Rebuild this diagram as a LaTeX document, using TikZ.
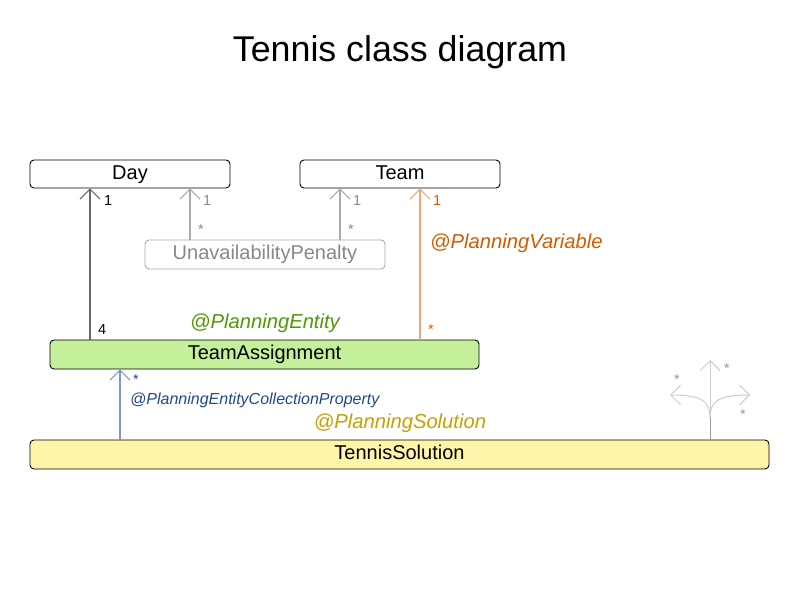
\documentclass[tikz,border=0pt]{standalone}
\usepackage{fontspec}
\setmainfont{Liberation Sans}
\usetikzlibrary{arrows.meta}
\definecolor{tagreen}{HTML}{C5F09B}
\definecolor{tsyellow}{HTML}{FFF5A8}
\definecolor{greentxt}{HTML}{4E9A06}
\definecolor{orangetxt}{HTML}{CE5C00}
\definecolor{orangeline}{HTML}{EBA57A}
\definecolor{bluetxt}{HTML}{204A87}
\definecolor{blueline}{HTML}{7F98BE}
\definecolor{goldtxt}{HTML}{C4A000}
\definecolor{darkline}{HTML}{666666}
\definecolor{grayline}{HTML}{AAAAAA}
\definecolor{graytxt}{HTML}{888888}
\tikzset{
  cls/.style={draw=black, rounded corners=4pt, line width=0.9pt, inner sep=0pt,
    font=\fontsize{20}{24}\selectfont, text=black, text height=14.5pt, text depth=4pt},
  assoc/.style={-{Straight Barb[length=10pt,width=20pt,line width=1pt]}, line width=1.1pt},
  mult/.style={font=\fontsize{14.5}{16}\selectfont, inner sep=0pt, anchor=west},
  annot/.style={font=\fontsize{20.2}{24}\selectfont\itshape, inner sep=0pt}
}
\begin{document}
\begin{tikzpicture}[x=1pt,y=-1pt]
\useasboundingbox (0,0) rectangle (800,600);
\node[font=\fontsize{35.8}{42}\selectfont, inner sep=0pt] (title) at (400,52) {Tennis class diagram};

\node[cls, minimum width=200pt, minimum height=28pt] (day) at (130,174) {Day};
\node[cls, minimum width=200pt, minimum height=28pt] (team) at (400,174) {Team};
\node[cls, draw=grayline, text=graytxt, minimum width=240pt, minimum height=29pt] (unav) at (265,254.5) {UnavailabilityPenalty};
\node[cls, fill=tagreen, minimum width=429pt, minimum height=29pt] (ta) at (264.5,354.5) {TeamAssignment};
\node[cls, fill=tsyellow, minimum width=739pt, minimum height=29pt] (ts) at (399.5,454.5) {TennisSolution};

\coordinate (x1) at (90,0);
\coordinate (x2) at (190,0);
\coordinate (x3) at (340,0);
\coordinate (x4) at (420,0);
\coordinate (x5) at (120,0);
\coordinate (x6) at (710,0);

\draw[assoc, darkline] (x1 |- ta.north) -- (x1 |- day.south);
\draw[assoc, grayline] (x2 |- unav.north) -- (x2 |- day.south);
\draw[assoc, grayline] (x3 |- unav.north) -- (x3 |- team.south);
\draw[assoc, orangeline] (x4 |- ta.north) -- (x4 |- team.south);
\draw[assoc, blueline] (x5 |- ts.north) -- (x5 |- ta.south);

\node[mult] (m1) at (104,201) {1};
\node[mult] (m4) at (98,330) {4};
\node[mult, text=graytxt] (m2) at (203,201) {1};
\node[mult, text=graytxt] (m3) at (198,230) {*};
\node[mult, text=graytxt] (m5) at (353,201) {1};
\node[mult, text=graytxt] (m6) at (348,230) {*};
\node[mult, text=orangetxt] (m7) at (433,201) {1};
\node[mult, text=orangetxt] (m8) at (428,330) {*};
\node[mult, text=bluetxt] (m9) at (133,380) {*};

\node[annot, text=orangetxt, anchor=west] (pv) at (430,243) {@PlanningVariable};
\node[annot, text=greentxt] (pe) at (265,323) {@PlanningEntity};
\node[annot, text=bluetxt, font=\fontsize{16}{18}\selectfont\itshape, anchor=west] (pecp) at (130,400) {@PlanningEntityCollectionProperty};
\node[annot, text=goldtxt] (ps) at (400,423) {@PlanningSolution};

% tree icon
\coordinate (tb) at (x6 |- ts.north);
\coordinate (tj) at (710,418);
\coordinate (tt) at (710,360);
\coordinate (tl) at (670,395);
\coordinate (tr) at (750,395);
\draw[line width=1pt, color=black!40] (tb) -- (tj);
\draw[line width=1pt, color=black!20, -{Straight Barb[length=10pt,width=20pt,line width=1pt]}] (tj) -- (tt);
\draw[line width=1pt, color=black!20, -{Straight Barb[length=10pt,width=20pt,line width=1pt]}] (tj) .. controls (710,400) and (700,395) .. (tl);
\draw[line width=1pt, color=black!20, -{Straight Barb[length=10pt,width=20pt,line width=1pt]}] (tj) .. controls (710,400) and (720,395) .. (tr);
\node[mult, text=black!40, anchor=center] (s1) at (677,380) {*};
\node[mult, text=black!40, anchor=center] (s2) at (727,369) {*};
\node[mult, text=black!40, anchor=center] (s3) at (743,415) {*};
\end{tikzpicture}
\end{document}
